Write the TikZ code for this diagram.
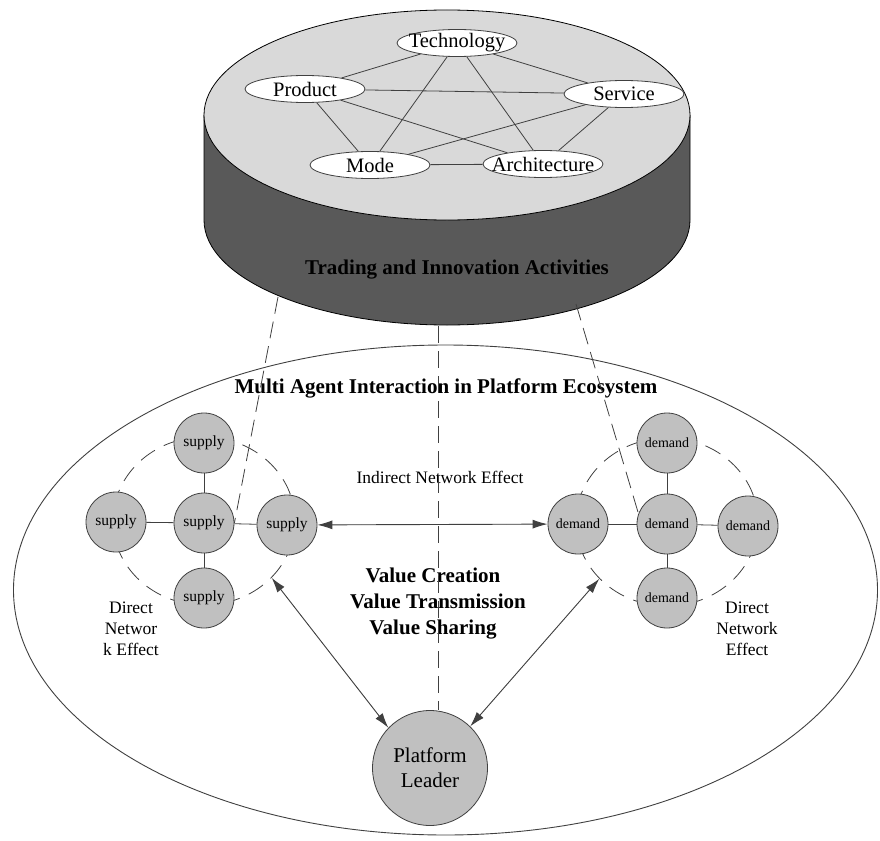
\documentclass[tikz,border=0pt]{standalone}
\usepackage{fontspec}
\setmainfont{Liberation Serif}
\usetikzlibrary{arrows.meta,shapes.geometric}
\definecolor{topgray}{HTML}{D9D9D9}
\definecolor{sidegray}{HTML}{595959}
\definecolor{nodegray}{HTML}{C0C0C0}
\definecolor{linegray}{HTML}{404040}
\begin{document}
\begin{tikzpicture}[x=1pt,y=-1pt,
  agent/.style={circle, draw=linegray, fill=nodegray, line width=0.8pt, minimum size=60pt, inner sep=0pt},
  supplytxt/.style={font=\fontsize{15.5}{18}\selectfont},
  demandtxt/.style={font=\fontsize{14}{17}\selectfont},
  topnode/.style={ellipse, draw=linegray, fill=white, line width=0.8pt, minimum width=120pt, minimum height=27pt, inner sep=0pt, font=\fontsize{20.5}{24}\selectfont},
  link/.style={draw=linegray, line width=0.8pt},
  ring/.style={ellipse, draw=linegray, line width=0.8pt, dash pattern=on 17pt off 10pt, minimum width=182pt, minimum height=168pt, inner sep=0pt},
  dashline/.style={draw=linegray, line width=0.8pt, dash pattern=on 17pt off 8pt},
  twoway/.style={draw=linegray, fill=linegray, line width=0.9pt, {Latex[length=15pt,width=9pt]}-{Latex[length=15pt,width=9pt]}},
  boldtxt/.style={font=\fontsize{21}{25}\selectfont\bfseries},
  plaintxt/.style={font=\fontsize{17.5}{21}\selectfont, align=center}
]
\useasboundingbox (0,0) rectangle (880,840);

% big ecosystem ellipse
\draw[draw=linegray, line width=0.9pt] (445.5,590) ellipse[x radius=432, y radius=245];

% cylinder
\fill[sidegray] (204,115) -- (204,220) arc[start angle=180, end angle=0, x radius=243, y radius=105] -- (690,115) -- cycle;
\draw[black, line width=0.8pt] (204,115) -- (204,220) arc[start angle=180, end angle=0, x radius=243, y radius=105] -- (690,115);
\draw[black, line width=0.8pt, fill=topgray] (447,115) ellipse[x radius=243, y radius=105];

\node[topnode] (tech) at (457,43) {\makebox[0pt]{Technology}};
\node[topnode] (prod) at (305,89) {\makebox[0pt]{Product}};
\node[topnode] (serv) at (624,94) {\makebox[0pt]{Service}};
\node[topnode] (mode) at (370,165) {\makebox[0pt]{Mode}};
\node[topnode] (arch) at (543,164) {\makebox[0pt]{Architecture}};
\draw[link] (tech) -- (prod);
\draw[link] (tech) -- (serv);
\draw[link] (tech) -- (mode);
\draw[link] (tech) -- (arch);
\draw[link] (prod) -- (serv);
\draw[link] (prod) -- (mode);
\draw[link] (prod) -- (arch);
\draw[link] (serv) -- (mode);
\draw[link] (serv) -- (arch);
\draw[link] (mode) -- (arch);

\node[boldtxt] (trading) at (457,270) {Trading and Innovation Activities};

\coordinate (cylL) at (278,297);
\coordinate (cylM) at (438,326);
\coordinate (cylR) at (576,304);

% rings
\node[ring] (sring) at (204,521) {};
\node[ring] (dring) at (667,522) {};

% supply group
\node[agent] (sT) at (204,443) {};
\node[agent] (sL) at (116,522) {};
\node[agent] (sC) at (204,523) {};
\node[agent] (sR) at (287,525) {};
\node[agent] (sB) at (204,598) {};
\foreach \n in {sT,sL,sC,sR,sB} \node[supplytxt] at (\n) {supply};
\draw[link] (sC) -- (sT);
\draw[link] (sC) -- (sL);
\draw[link] (sC) -- (sR);
\draw[link] (sC) -- (sB);

% demand group
\node[agent] (dT) at (667,443) {};
\node[agent] (dL) at (578,524) {};
\node[agent] (dC) at (667,524) {};
\node[agent] (dR) at (748,526) {};
\node[agent] (dB) at (667,598) {};
\foreach \n in {dT,dL,dC,dR,dB} \node[demandtxt] at (\n) {demand};
\draw[link] (dC) -- (dT);
\draw[link] (dC) -- (dL);
\draw[link] (dC) -- (dR);
\draw[link] (dC) -- (dB);

% platform leader
\node[agent, minimum size=115pt, font=\fontsize{21}{25}\selectfont, align=center] (leader) at (430,768) {Platform\\Leader};

% texts
\node[boldtxt] (multi) at (446,388) {Multi Agent Interaction in Platform Ecosystem};
\node[plaintxt] (indirect) at (440,477) {Indirect Network Effect};
\node[boldtxt] (v1) at (433,575) {Value Creation};
\node[boldtxt] (v2) at (438,601) {Value Transmission};
\node[boldtxt] (v3) at (433,630) {Value Sharing};
\node[plaintxt] (dnl) at (131,629) {Direct\\Networ\\k Effect};
\node[plaintxt] (dnr) at (747,629) {Direct\\Network\\Effect};

% dashed projection lines
\draw[dashline] (cylL) -- (sC.east);
\draw[dashline] (cylM) -- (cylM |- leader.north);
\draw[dashline] (cylR) -- (dC.160);

% arrows
\draw[twoway] (sR) -- (dL);
\draw[twoway] (sring.-40) -- (leader.136);
\draw[twoway] (dring.-140) -- (leader.46);
\end{tikzpicture}
\end{document}
